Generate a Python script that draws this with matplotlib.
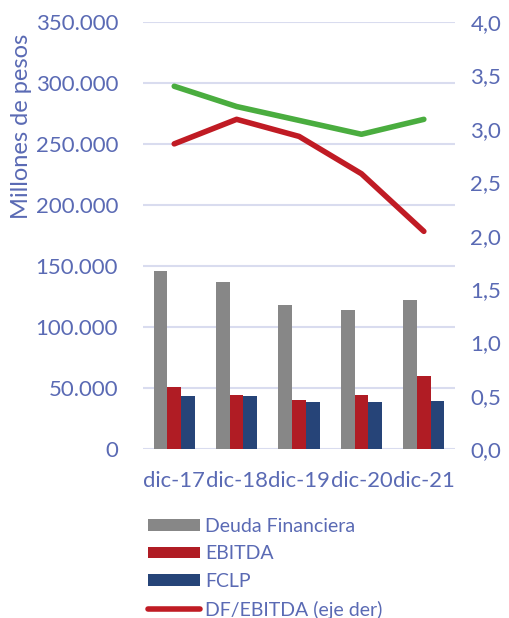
import matplotlib.pyplot as plt
import numpy as np

# datos
periodos = ['dic-17', 'dic-18', 'dic-19', 'dic-20', 'dic-21']
deuda_financiera = [146100, 137100, 118000, 113900, 122100]
ebitda = [51100, 44500, 40200, 44000, 59800]
fclp = [43200, 43200, 38300, 38800, 39600]
df_ebitda = [2.86, 3.09, 2.93, 2.58, 2.04]
otra_razon = [3.40, 3.21, 3.08, 2.95, 3.09]

txt = '#5a6ab4'
plt.rcParams['font.family'] = ['Lato', 'DejaVu Sans']

fig = plt.figure(figsize=(5.09, 6.18), dpi=100)
ax = fig.add_axes([0.281, 0.2735, 0.613, 0.6905])
ax2 = ax.twinx()

x = np.arange(len(periodos))
w = 0.22
b1 = ax.bar(x - w, deuda_financiera, w, color='#878787', label='Deuda Financiera', zorder=3)
b2 = ax.bar(x, ebitda, w, color='#b01c24', label='EBITDA', zorder=3)
b3 = ax.bar(x + w, fclp, w, color='#264478', label='FCLP', zorder=3)

l1, = ax2.plot(x, df_ebitda, color='#c01b24', lw=4, solid_capstyle='round', label='DF/EBITDA (eje der)')
ax2.plot(x, otra_razon, color='#4aad3f', lw=4, solid_capstyle='round')

ax.set_xlim(-0.5, 4.5)
ax.set_ylim(0, 350000)
ax.set_yticks(np.arange(0, 350001, 50000))
ax.set_yticklabels(['0'] + [f'{int(v):,}'.replace(',', '.') for v in np.arange(50000, 350001, 50000)])
ax2.set_ylim(0, 4.0)
ax2.set_yticks(np.arange(0, 4.01, 0.5))
ax2.set_yticklabels([f'{v:.1f}'.replace('.', ',') for v in np.arange(0, 4.01, 0.5)])

ax.set_xticks(x)
ax.set_xticklabels(periodos)
ax.grid(axis='y', color='#d9dcef', lw=1.5, zorder=0)
for a in (ax, ax2):
    for s in a.spines.values():
        s.set_visible(False)
    a.tick_params(length=0, colors=txt, labelsize=16)
ax.tick_params(axis='y', pad=18)
ax.tick_params(axis='x', pad=16, labelsize=15.8)
ax2.tick_params(axis='y', pad=11)

ax.set_ylabel('Millones de pesos', color=txt, fontsize=17, labelpad=2)
ax.yaxis.set_label_coords(-0.355, 0.755)

fig.legend(handles=[b1, b2, b3, l1], loc='upper left', bbox_to_anchor=(0.275, 0.175),
           frameon=False, fontsize=14, labelcolor=txt, handlelength=2.7, handleheight=0.55,
           labelspacing=0.55, handletextpad=0.25, borderaxespad=0)

fig.savefig('out.png', dpi=100)
